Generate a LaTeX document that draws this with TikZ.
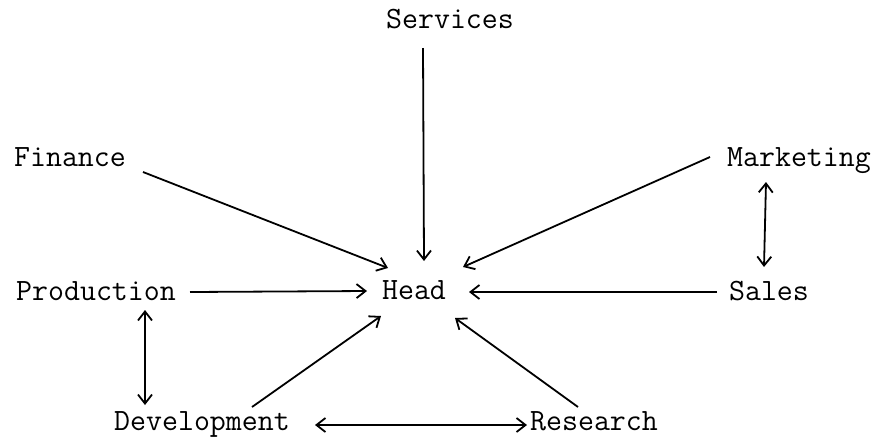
\documentclass[tikz,border=0pt]{standalone}
\usetikzlibrary{arrows.meta}
\begin{document}
\begin{tikzpicture}[x=1pt,y=-1pt,
  lbl/.style={anchor=base,inner sep=0pt,font=\fontsize{31}{31}\selectfont\ttfamily},
  tip/.tip={Straight Barb[length=9pt,width=14pt,line width=1.8pt]},
  link/.style={line width=1.8pt,-tip},
  both/.style={line width=1.8pt,tip-tip}]
\useasboundingbox (0,0) rectangle (877,437);

% departments around the head office
\node[lbl] (head) at (414,299) {Head};
\node[lbl] (serv) at (450,28)  {Services};
\node[lbl] (fin)  at (70,166)  {Finance};
\node[lbl] (mkt)  at (799,166) {Marketing};
\node[lbl] (prod) at (96,300)  {Production};
\node[lbl] (sales) at (769,300) {Sales};
\node[lbl] (dev)  at (202,430) {Development};
\node[lbl] (res)  at (594,430) {Research};

% reporting lines into Head
\draw[link] ([shift={(-27,20)}]serv.base) -- ([shift={(10,-38)}]head.base);
\draw[link] ([shift={(73,6)}]fin.base)    -- ([shift={(-26,-31)}]head.base);
\draw[link] ([shift={(-89,-9)}]mkt.base)  -- ([shift={(49,-32)}]head.base);
\draw[link] ([shift={(94,-8)}]prod.base)  -- ([shift={(-47,-8)}]head.base);
\draw[link] ([shift={(-52,-8)}]sales.base) -- ([shift={(55,-7)}]head.base);
\draw[link] ([shift={(50,-23)}]dev.base)  -- ([shift={(-33,17)}]head.base);
\draw[link] ([shift={(-16,-23)}]res.base) -- ([shift={(41,19)}]head.base);

% two-way links between departments
\draw[both] ([shift={(-33,16)}]mkt.base)  -- ([shift={(-5,-33)}]sales.base);
\draw[both] ([shift={(49,10)}]prod.base)  -- ([shift={(-57,-25)}]dev.base);
\draw[both] ([shift={(113,-5)}]dev.base)  -- ([shift={(-67,-5)}]res.base);
\end{tikzpicture}
\end{document}
